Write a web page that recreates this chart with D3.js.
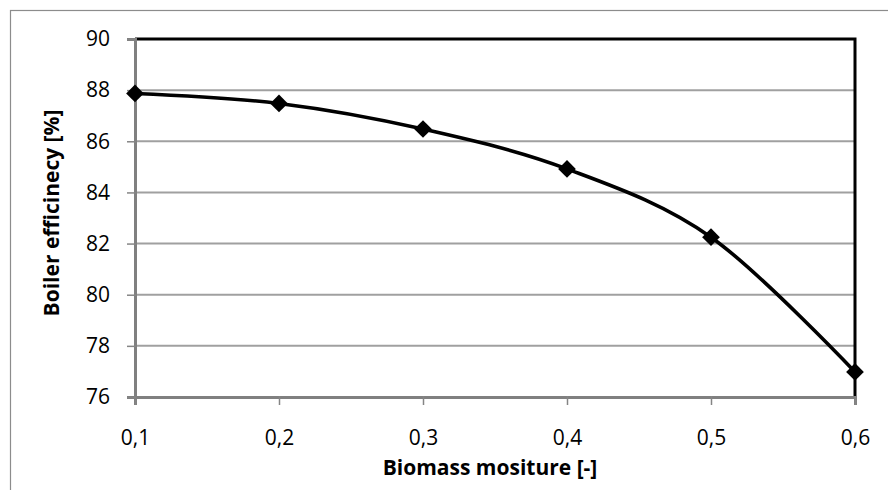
<!DOCTYPE html>
<html>
<head>
<meta charset="utf-8">
<script src="https://cdn.jsdelivr.net/npm/d3@7"></script>
<style>
  body { margin: 0; background: #fff; }
  text { font-family: "Open Sans", "DejaVu Sans", sans-serif; fill: #000; }
</style>
</head>
<body>
<div class="chart-container"></div>
<script>
var moisture = [0.1, 0.2, 0.3, 0.4, 0.5, 0.6];
var efficiency = [87.87, 87.48, 86.48, 84.92, 82.25, 76.98];
var yTicks = [76, 78, 80, 82, 84, 86, 88, 90];
var xTicks = [0.1, 0.2, 0.3, 0.4, 0.5, 0.6];

var width = 888, height = 490;
var margin = {left: 135, right: 33, top: 39, bottom: 93};

var svg = d3.select(".chart-container")
    .append("svg")
    .attr("width", width)
    .attr("height", height);

// outer chart frame
svg.append("rect")
    .attr("x", 10.5).attr("y", 10.5)
    .attr("width", width).attr("height", height)
    .style("fill", "none")
    .style("stroke", "#8c8c8c")
    .style("stroke-width", 1.2);

var x = d3.scaleLinear().domain([0.1, 0.6]).range([margin.left, width - margin.right]);
var y = d3.scaleLinear().domain([76, 90]).range([height - margin.bottom, margin.top]);

// gridlines
svg.append("g")
    .selectAll("line")
    .data(yTicks)
    .enter().append("line")
    .attr("x1", x(0.1)).attr("x2", x(0.6))
    .attr("y1", function(d) { return y(d); })
    .attr("y2", function(d) { return y(d); })
    .style("stroke", "#a0a0a0")
    .style("stroke-width", 2);

// plot area border (top/right black)
svg.append("path")
    .attr("d", "M" + x(0.1) + "," + y(90) + "H" + x(0.6) + "V" + y(76))
    .style("fill", "none")
    .style("stroke", "#000")
    .style("stroke-width", 3);

var fmt = function(d) { return d3.format(".1f")(d).replace(".", ","); };

var xAxis = svg.append("g")
    .attr("transform", "translate(0," + y(76) + ")")
    .call(d3.axisBottom(x).tickValues(xTicks).tickFormat(fmt).tickSize(8).tickPadding(25));
var yAxis = svg.append("g")
    .attr("transform", "translate(" + x(0.1) + ",0)")
    .call(d3.axisLeft(y).tickValues(yTicks).tickSize(8).tickPadding(17));

[xAxis, yAxis].forEach(function(a) {
    a.select(".domain").style("stroke", "#808080").style("stroke-width", 3);
    a.selectAll(".tick line").style("stroke", "#858585").style("stroke-width", 1.5);
    a.selectAll("text")
        .style("font-family", "'Open Sans', sans-serif")
        .style("font-size", "21px")
        .style("fill", "#000");
});
// Excel draws the tick marks crossing the axis
xAxis.selectAll(".tick line").attr("y1", -1);
yAxis.selectAll(".tick line").attr("x1", 1);

var pts = moisture.map(function(m, i) { return [m, efficiency[i]]; });

var line = d3.line()
    .x(function(d) { return x(d[0]); })
    .y(function(d) { return y(d[1]); })
    .curve(d3.curveCatmullRom.alpha(0));

svg.append("path")
    .datum(pts)
    .attr("d", line)
    .style("fill", "none")
    .style("stroke", "#000")
    .style("stroke-width", 3.6);

svg.append("g")
    .selectAll("path")
    .data(pts)
    .enter().append("path")
    .attr("d", d3.symbol().type(d3.symbolDiamond2).size(200))
    .attr("transform", function(d) { return "translate(" + x(d[0]) + "," + y(d[1]) + ")"; })
    .style("fill", "#000");

svg.append("text")
    .attr("x", 490)
    .attr("y", 475)
    .attr("text-anchor", "middle")
    .style("font-size", "21px")
    .style("font-weight", "bold")
    .text("Biomass mositure [-]");

svg.append("text")
    .attr("transform", "translate(59,213) rotate(-90)")
    .attr("text-anchor", "middle")
    .style("font-size", "21px")
    .style("font-weight", "bold")
    .text("Boiler efficinecy [%]");
</script>
</body>
</html>
